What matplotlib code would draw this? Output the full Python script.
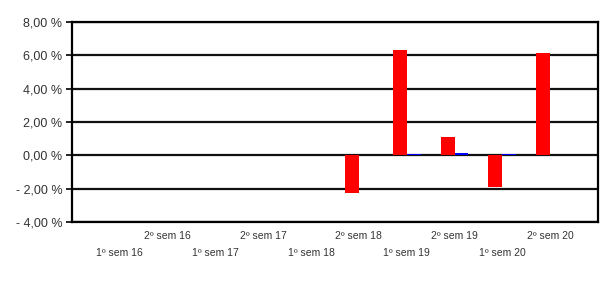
import matplotlib
matplotlib.use("Agg")
import matplotlib.pyplot as plt
import numpy as np

plt.rcParams["font.family"] = ["Liberation Sans", "DejaVu Sans"]

categories = ["1º sem 16", "2º sem 16", "1º sem 17", "2º sem 17", "1º sem 18",
              "2º sem 18", "1º sem 19", "2º sem 19", "1º sem 20", "2º sem 20"]
red_values = [0, 0, 0, 0, 0, -2.25, 6.3, 1.08, -1.92, 6.12]
blue_values = [0, 0, 0, 0, 0, 0.05, 0.07, 0.13, 0.06, 0.05]
yticks = [-4, -2, 0, 2, 4, 6, 8]

def fmt(v):
    s = f"{abs(v):.2f}".replace(".", ",") + " %"
    return ("- " + s) if v < 0 else s

fig = plt.figure(figsize=(6, 2.83), dpi=100)
ax = fig.add_axes([72/600, 1 - 222/283, 526/600, 200/283])

x = np.arange(len(categories))
w = 0.29
ax.bar(x - w/2, red_values, width=w, color="#ff0000", zorder=3)
ax.bar(x + w/2, blue_values, width=w, color="#0000ff", zorder=3)

ax.set_ylim(-4, 8)
ax.set_xlim(-1, 10)
ax.set_yticks(yticks)
ax.set_yticklabels([fmt(v) for v in yticks], fontsize=9, color="#333333")
for v in yticks:
    ax.axhline(v, color="#111111", lw=1.6, zorder=2)
ax.tick_params(axis="y", length=4, width=1.2, pad=3)
ax.set_xticks([])
for s in ax.spines.values():
    s.set_linewidth(1.6)
    s.set_color("black")

for i, c in enumerate(categories):
    ypos = -4.85 if i % 2 == 1 else -5.85
    ax.text(i, ypos, c, ha="center", va="center", fontsize=7.5,
            color="#333333", clip_on=False)

fig.savefig("out.png", dpi=100)
